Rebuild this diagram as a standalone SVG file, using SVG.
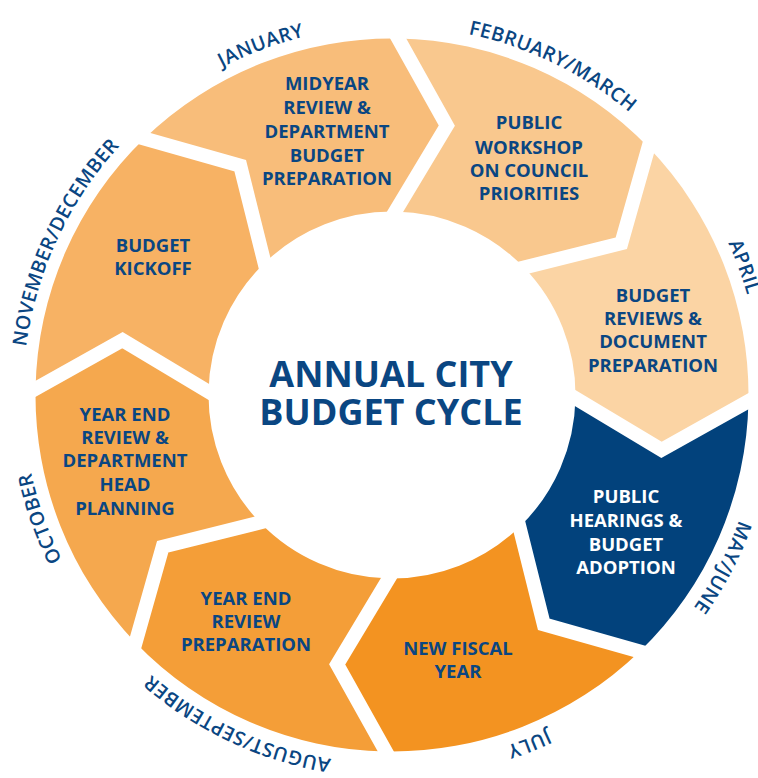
<svg xmlns="http://www.w3.org/2000/svg" xmlns:xlink="http://www.w3.org/1999/xlink" width="758" height="778" viewBox="0 0 758 778">
<style>
.lbl{font-family:"Open Sans","Noto Sans","Liberation Sans",sans-serif;font-weight:700;font-size:18.5px;fill:#0A4682;text-anchor:middle}
.lbl.w{fill:#FFFFFF}
.mon{font-family:"Open Sans","Noto Sans","Liberation Sans",sans-serif;font-weight:600;font-size:19.5px;letter-spacing:0.4px;fill:#0A4682;text-anchor:middle}
.title{font-family:"Open Sans","Noto Sans","Liberation Sans",sans-serif;font-weight:700;font-size:36px;fill:#0A4682;text-anchor:middle}
.gap{fill:none;stroke:#FFFFFF;stroke-width:14;stroke-linejoin:miter;stroke-miterlimit:10}
</style>
<defs>
<path id="ring" d="M23,395 A369,369 0 1 1 761,395 A369,369 0 1 1 23,395"/>
</defs>
<rect width="758" height="778" fill="#FFFFFF"/>
<g id="jan">
<path fill="#F8BD7A" d="M144.35,138.55 A356.5,356.5 0 0 1 398.22,38.55 L446.83,125.52 L395.2,211.53 A183.5,183.5 0 0 0 264.53,263 L240.22,165.68 Z"/>
</g>
<g id="feb">
<path fill="#F9C88E" d="M398.22,38.55 A356.5,356.5 0 0 1 648.45,147.35 L621.32,243.22 L524,267.53 A183.5,183.5 0 0 0 395.2,211.53 L446.83,125.52 Z"/>
</g>
<g id="apr">
<path fill="#FBD4A4" d="M648.45,147.35 A356.5,356.5 0 0 1 748.45,401.22 L661.48,449.83 L575.47,398.2 A183.5,183.5 0 0 0 524,267.53 L621.32,243.22 Z"/>
</g>
<g id="may">
<path fill="#02427C" d="M748.45,401.22 A356.5,356.5 0 0 1 639.65,651.45 L543.78,624.32 L519.47,527 A183.5,183.5 0 0 0 575.47,398.2 L661.48,449.83 Z"/>
</g>
<g id="jul">
<path fill="#F39321" d="M639.65,651.45 A356.5,356.5 0 0 1 385.78,751.45 L337.17,664.48 L388.8,578.47 A183.5,183.5 0 0 0 519.47,527 L543.78,624.32 Z"/>
</g>
<g id="aug">
<path fill="#F49E38" d="M385.78,751.45 A356.5,356.5 0 0 1 135.55,642.65 L162.68,546.78 L260,522.47 A183.5,183.5 0 0 0 388.8,578.47 L337.17,664.48 Z"/>
</g>
<g id="oct">
<path fill="#F5A84E" d="M135.55,642.65 A356.5,356.5 0 0 1 35.55,388.78 L122.52,340.17 L208.53,391.8 A183.5,183.5 0 0 0 260,522.47 L162.68,546.78 Z"/>
</g>
<g id="nov">
<path fill="#F7B264" d="M35.55,388.78 A356.5,356.5 0 0 1 144.35,138.55 L240.22,165.68 L264.53,263 A183.5,183.5 0 0 0 208.53,391.8 L122.52,340.17 Z"/>
</g>
<g id="connectors">
<polyline class="gap" points="129.97,134.48 240.22,165.68 268.18,277.6"/>
<polyline class="gap" points="390.93,25.5 446.83,125.52 387.46,224.43"/>
<polyline class="gap" points="652.52,132.97 621.32,243.22 509.4,271.18"/>
<polyline class="gap" points="761.5,393.93 661.48,449.83 562.57,390.46"/>
<polyline class="gap" points="654.03,655.52 543.78,624.32 515.82,512.4"/>
<polyline class="gap" points="393.07,764.5 337.17,664.48 396.54,565.57"/>
<polyline class="gap" points="131.48,657.03 162.68,546.78 274.6,518.82"/>
<polyline class="gap" points="22.5,396.07 122.52,340.17 221.43,399.54"/>
</g>
<g id="labels">
<text class="lbl" x="327"><tspan x="327" y="90">MIDYEAR</tspan><tspan x="327" y="114">REVIEW &amp;</tspan><tspan x="327" y="138">DEPARTMENT</tspan><tspan x="327" y="162">BUDGET</tspan><tspan x="327" y="185">PREPARATION</tspan></text>
<text class="lbl" x="529"><tspan x="529" y="129">PUBLIC</tspan><tspan x="529" y="154">WORKSHOP</tspan><tspan x="529" y="177">ON COUNCIL</tspan><tspan x="529" y="200">PRIORITIES</tspan></text>
<text class="lbl" x="653"><tspan x="653" y="302">BUDGET</tspan><tspan x="653" y="325">REVIEWS &amp;</tspan><tspan x="653" y="348">DOCUMENT</tspan><tspan x="653" y="372">PREPARATION</tspan></text>
<text class="lbl w" x="626"><tspan x="626" y="503">PUBLIC</tspan><tspan x="626" y="527">HEARINGS &amp;</tspan><tspan x="626" y="551">BUDGET</tspan><tspan x="626" y="574">ADOPTION</tspan></text>
<text class="lbl" x="458"><tspan x="458" y="655">NEW FISCAL</tspan><tspan x="458" y="678">YEAR</tspan></text>
<text class="lbl" x="246"><tspan x="246" y="605">YEAR END</tspan><tspan x="246" y="628">REVIEW</tspan><tspan x="246" y="651">PREPARATION</tspan></text>
<text class="lbl" x="125"><tspan x="125" y="421">YEAR END</tspan><tspan x="125" y="444">REVIEW &amp;</tspan><tspan x="125" y="467">DEPARTMENT</tspan><tspan x="125" y="491">HEAD</tspan><tspan x="125" y="515">PLANNING</tspan></text>
<text class="lbl" x="153"><tspan x="153" y="252">BUDGET</tspan><tspan x="153" y="275">KICKOFF</tspan></text>
</g>
<g id="months">
<text class="mon"><textPath xlink:href="#ring" href="#ring" startOffset="447">JANUARY</textPath></text>
<text class="mon"><textPath xlink:href="#ring" href="#ring" startOffset="747">FEBRUARY/MARCH</textPath></text>
<text class="mon"><textPath xlink:href="#ring" href="#ring" startOffset="1030">APRIL</textPath></text>
<text class="mon"><textPath xlink:href="#ring" href="#ring" startOffset="1336">MAY/JUNE</textPath></text>
<text class="mon"><textPath xlink:href="#ring" href="#ring" startOffset="1600">JULY</textPath></text>
<text class="mon"><textPath xlink:href="#ring" href="#ring" startOffset="1900">AUGUST/SEPTEMBER</textPath></text>
<text class="mon"><textPath xlink:href="#ring" href="#ring" startOffset="2193">OCTOBER</textPath></text>
<text class="mon"><textPath xlink:href="#ring" href="#ring" startOffset="161">NOVEMBER/DECEMBER</textPath></text>
</g>
<g id="center">
<text class="title" x="391" y="387">ANNUAL CITY</text>
<text class="title" x="391" y="425">BUDGET CYCLE</text>
</g>
</svg>
